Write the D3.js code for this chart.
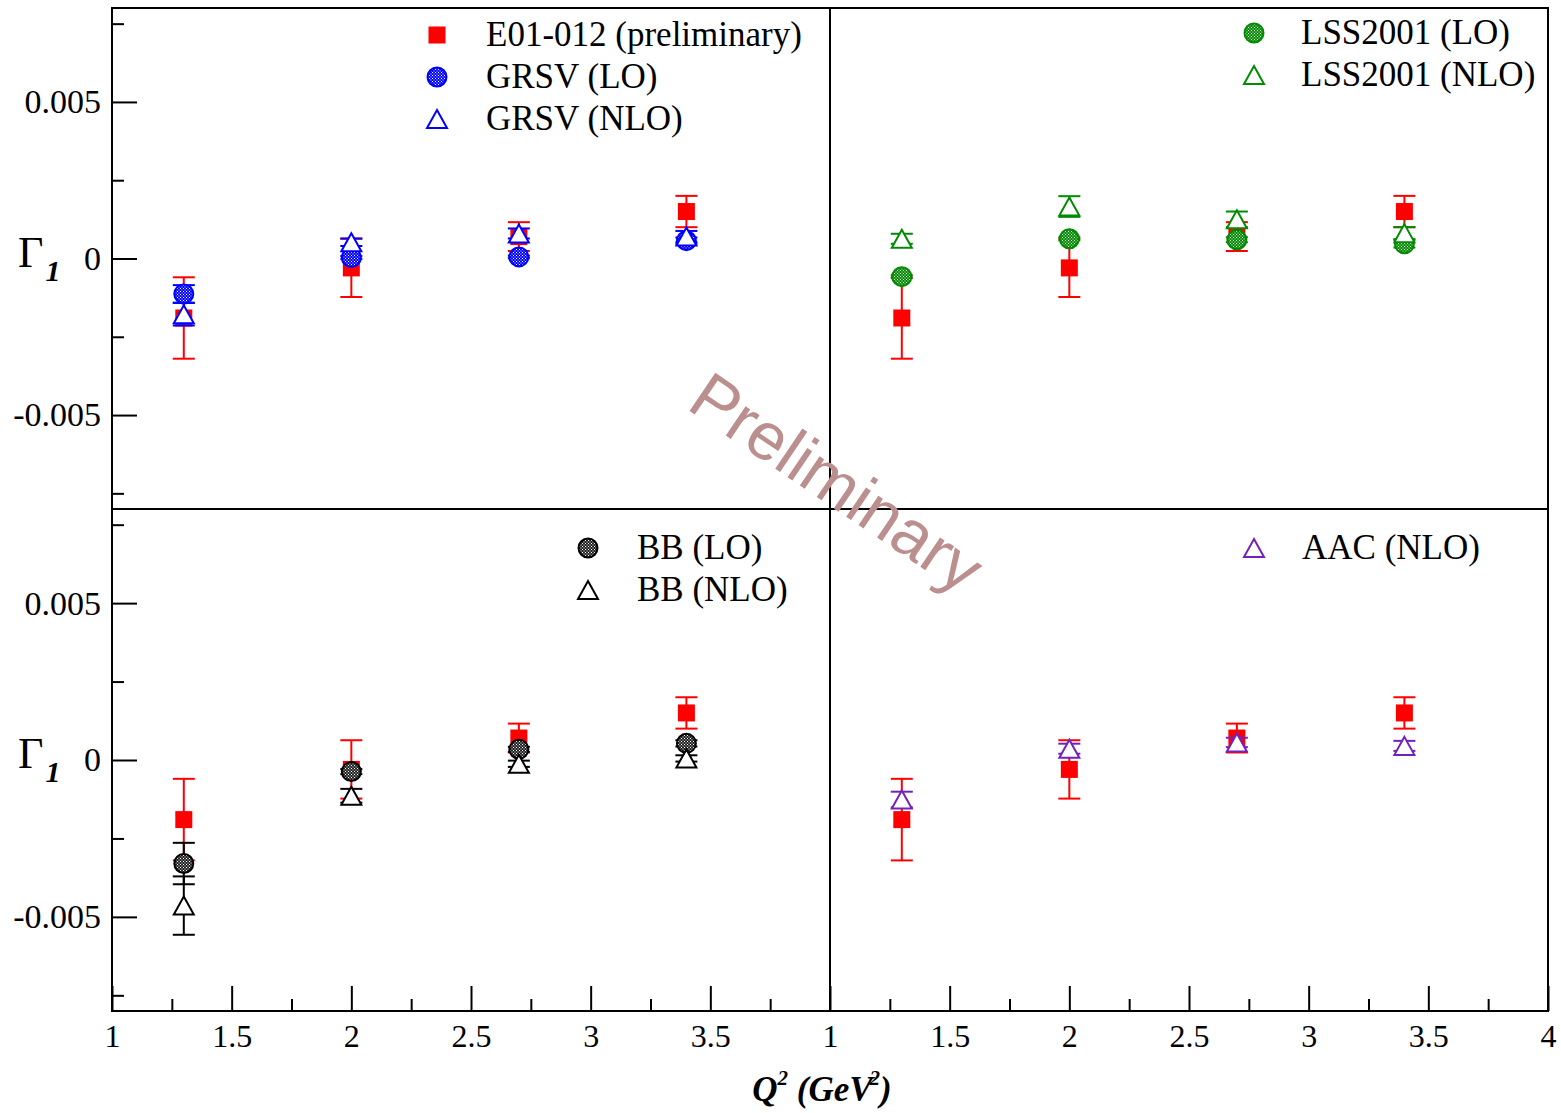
<!DOCTYPE html>
<html>
<head>
<meta charset="utf-8">
<script src="https://cdn.jsdelivr.net/npm/d3@7"></script>
<style>
  html, body { margin: 0; padding: 0; background: #fff; }
  svg { display: block; }
  text { font-family: "Liberation Serif", "Times New Roman", serif; }
</style>
</head>
<body>
<svg id="chart" width="1561" height="1113"></svg>
<script>
// Q^2 points (GeV^2)
const q2 = [1.3, 2.0, 2.7, 3.4];

// E01-012 preliminary data: Gamma_1 and its uncertainty
const e01Val = [-0.0019, -0.0003, 0.0007, 0.0015];
const e01Err = [0.0013, 0.00093, 0.00046, 0.0005];

// GRSV
const grsvLoVal  = [-0.00113, 0.00003, 0.00005, 0.00057];
const grsvLoErr  = [0.00028, 0.00005, 0.00004, 0.0001];
const grsvNloVal = [-0.00178, 0.00052, 0.0008, 0.0007];
const grsvNloErr = [0.00036, 0.00012, 0.00016, 0.00018];

// LSS2001
const lssLoVal  = [-0.00058, 0.00063, 0.0006, 0.00047];
const lssLoErr  = [0.00005, 0.00005, 0.00008, 0.00012];
const lssNloVal = [0.00063, 0.00166, 0.00125, 0.00081];
const lssNloErr = [0.00016, 0.00033, 0.00025, 0.00019];

// BB
const bbLoVal  = [-0.0033, -0.00037, 0.00034, 0.00053];
const bbLoErr  = [0.00066, 0.00008, 0.00008, 0.0001];
const bbNloVal = [-0.00464, -0.00114, -0.00012, 0.00005];
const bbNloErr = [0.00093, 0.00022, 0.0001, 0.0001];

// AAC
const aacNloVal = [-0.00126, 0.00036, 0.00056, 0.00045];
const aacNloErr = [0.00025, 0.00016, 0.00015, 0.00016];

// axis ticks
const xMajorLeft  = [1, 1.5, 2, 2.5, 3, 3.5];
const xMajorRight = [1, 1.5, 2, 2.5, 3, 3.5, 4];
const xMinor      = [1.25, 1.75, 2.25, 2.75, 3.25, 3.75];
const yMajor      = [0.005, 0, -0.005];
const yMajorLabels = ["0.005", "0", "-0.005"];
const yMinor      = [0.0075, 0.0025, -0.0025, -0.0075];

const svg = d3.select("#chart");

// frame layout
const L = 112, M = 830, R = 1548, T = 8, H = 509, B = 1011;

const xL = d3.scaleLinear().domain([1, 4]).range([L, M]);
const xR = d3.scaleLinear().domain([1, 4]).range([M, R]);
const yT = d3.scaleLinear().domain([-0.008, 0.008]).range([H, T]);
const yB = d3.scaleLinear().domain([-0.008, 0.008]).range([B, H]);

// hatched fills for the LO markers
const defs = svg.append("defs");
function hatch(id, color) {
  const p = defs.append("pattern").attr("id", id)
    .attr("patternUnits", "userSpaceOnUse").attr("width", 3).attr("height", 3);
  p.append("rect").attr("width", 3).attr("height", 3).attr("fill", color);
  p.append("rect").attr("x", 0).attr("y", 0).attr("width", 1).attr("height", 1).attr("fill", "#fff");
  p.append("rect").attr("x", 1.5).attr("y", 1.5).attr("width", 1).attr("height", 1).attr("fill", "#fff");
  return `url(#${id})`;
}

const RED = "#ff0000", BLUE = "#0000ff", GREEN = "#008b00", BLACK = "#000000", INDIGO = "#7221bc";

const e01 = { name: "E01-012 (preliminary)", color: RED, shape: "square", values: e01Val, errors: e01Err };

const panels = [
  { x: xL, y: yT, legend: { sx: 437, tx: 486, y0: 35 },
    series: [e01,
      { name: "GRSV (LO)", color: BLUE, shape: "circle", fill: hatch("hb", BLUE), values: grsvLoVal, errors: grsvLoErr },
      { name: "GRSV (NLO)", color: BLUE, shape: "triangle", values: grsvNloVal, errors: grsvNloErr }],
    legendSeries: [0, 1, 2] },
  { x: xR, y: yT, legend: { sx: 1254, tx: 1301, y0: 33 },
    series: [e01,
      { name: "LSS2001 (LO)", color: GREEN, shape: "circle", fill: hatch("hg", GREEN), values: lssLoVal, errors: lssLoErr },
      { name: "LSS2001 (NLO)", color: GREEN, shape: "triangle", values: lssNloVal, errors: lssNloErr }],
    legendSeries: [1, 2] },
  { x: xL, y: yB, legend: { sx: 588, tx: 637, y0: 548 },
    series: [e01,
      { name: "BB (LO)", color: BLACK, shape: "circle", fill: hatch("hk", "#222"), values: bbLoVal, errors: bbLoErr },
      { name: "BB (NLO)", color: BLACK, shape: "triangle", values: bbNloVal, errors: bbNloErr }],
    legendSeries: [1, 2] },
  { x: xR, y: yB, legend: { sx: 1254, tx: 1302, y0: 548 },
    series: [e01,
      { name: "AAC (NLO)", color: INDIGO, shape: "triangle", values: aacNloVal, errors: aacNloErr }],
    legendSeries: [1] }
];

function drawMarker(g, shape, cx, cy, s) {
  if (shape === "square") {
    g.append("rect").attr("x", cx - 8.5).attr("y", cy - 8.5).attr("width", 17).attr("height", 17)
      .attr("fill", s.color);
  } else if (shape === "circle") {
    g.append("circle").attr("cx", cx).attr("cy", cy).attr("r", 9.5)
      .attr("fill", s.fill).attr("stroke", s.color).attr("stroke-width", 2);
  } else {
    const w = 10, h = 9;
    g.append("path")
      .attr("d", `M${cx},${cy - h}L${cx + w},${cy + h}L${cx - w},${cy + h}Z`)
      .attr("fill", "#fff").attr("stroke", s.color).attr("stroke-width", 2)
      .attr("stroke-linejoin", "miter");
  }
}

panels.forEach(p => {
  const g = svg.append("g");
  p.series.forEach(s => {
    const sg = g.append("g");
    q2.forEach((q, i) => {
      const cx = p.x(q);
      const v = s.values[i], e = s.errors[i];
      const y1 = p.y(v + e), y2 = p.y(v - e);
      sg.append("line").attr("x1", cx).attr("x2", cx).attr("y1", y1).attr("y2", y2)
        .attr("stroke", s.color).attr("stroke-width", 2);
      [y1, y2].forEach(yy => sg.append("line")
        .attr("x1", cx - 11).attr("x2", cx + 11).attr("y1", yy).attr("y2", yy)
        .attr("stroke", s.color).attr("stroke-width", 2));
      drawMarker(sg, s.shape, cx, p.y(v), s);
    });
  });
  // legend
  p.legendSeries.forEach((idx, k) => {
    const s = p.series[idx];
    const ly = p.legend.y0 + k * 42;
    drawMarker(g, s.shape, p.legend.sx, ly, s);
    g.append("text").attr("x", p.legend.tx).attr("y", ly + 11)
      .attr("font-size", 35).attr("fill", "#000").text(s.name);
  });
});

// y axes (left side of the left panels, ticks pointing inward)
[yT, yB].forEach(y => {
  const major = svg.append("g").attr("transform", `translate(${L},0)`)
    .call(d3.axisLeft(y).tickValues(yMajor).tickSize(-25).tickPadding(11)
      .tickFormat((d, i) => yMajorLabels[i]));
  major.select(".domain").remove();
  major.selectAll("line").attr("stroke", "#000").attr("stroke-width", 2);
  major.selectAll("text").attr("font-size", 34).attr("font-family", "Liberation Serif").attr("fill", "#000");
  const minor = svg.append("g").attr("transform", `translate(${L},0)`)
    .call(d3.axisLeft(y).tickValues(yMinor).tickSize(-12).tickFormat(""));
  minor.select(".domain").remove();
  minor.selectAll("line").attr("stroke", "#000").attr("stroke-width", 2);

  // Gamma_1 label
  const lab = svg.append("text").attr("x", 18).attr("y", y(0) + 8).attr("fill", "#000");
  lab.append("tspan").attr("font-size", 44).text("Γ");
  lab.append("tspan").attr("font-size", 30).attr("font-weight", "bold").attr("font-style", "italic")
    .attr("dy", 14).attr("dx", 2).text("1");
});

// x axes along the bottom of the lower panels
[[xL, xMajorLeft], [xR, xMajorRight]].forEach(([x, ticks]) => {
  const major = svg.append("g").attr("transform", `translate(0,${B})`)
    .call(d3.axisBottom(x).tickValues(ticks).tickSize(-25).tickPadding(13).tickFormat(d3.format("")));
  major.select(".domain").remove();
  major.selectAll("line").attr("stroke", "#000").attr("stroke-width", 2);
  major.selectAll("text").attr("font-size", 32).attr("font-family", "Liberation Serif").attr("fill", "#000");
  const minor = svg.append("g").attr("transform", `translate(0,${B})`)
    .call(d3.axisBottom(x).tickValues(xMinor).tickSize(-12).tickFormat(""));
  minor.select(".domain").remove();
  minor.selectAll("line").attr("stroke", "#000").attr("stroke-width", 2);
});

// panel frames
svg.append("rect").attr("x", L).attr("y", T).attr("width", R - L).attr("height", B - T)
  .attr("fill", "none").attr("stroke", "#000").attr("stroke-width", 2);
svg.append("line").attr("x1", M).attr("x2", M).attr("y1", T).attr("y2", B)
  .attr("stroke", "#000").attr("stroke-width", 2);
svg.append("line").attr("x1", L).attr("x2", R).attr("y1", H).attr("y2", H)
  .attr("stroke", "#000").attr("stroke-width", 2);

// x axis title
const xt = svg.append("text").attr("x", 822).attr("y", 1101).attr("text-anchor", "middle")
  .attr("font-size", 35).attr("font-weight", "bold").attr("font-style", "italic").attr("fill", "#000");
xt.append("tspan").text("Q");
xt.append("tspan").attr("font-size", 21).attr("dy", -16).text("2");
xt.append("tspan").attr("dy", 16).text(" (GeV");
xt.append("tspan").attr("font-size", 21).attr("dy", -16).attr("dx", -3).text("2");
xt.append("tspan").attr("dy", 16).text(")");

// watermark
svg.append("text")
  .attr("transform", "translate(685,408) rotate(34)")
  .attr("text-anchor", "start")
  .style("font-family", "'Liberation Sans', Arial, sans-serif")
  .attr("font-size", 67).attr("fill", "#bc8f8f")
  .text("Preliminary");
</script>
</body>
</html>
